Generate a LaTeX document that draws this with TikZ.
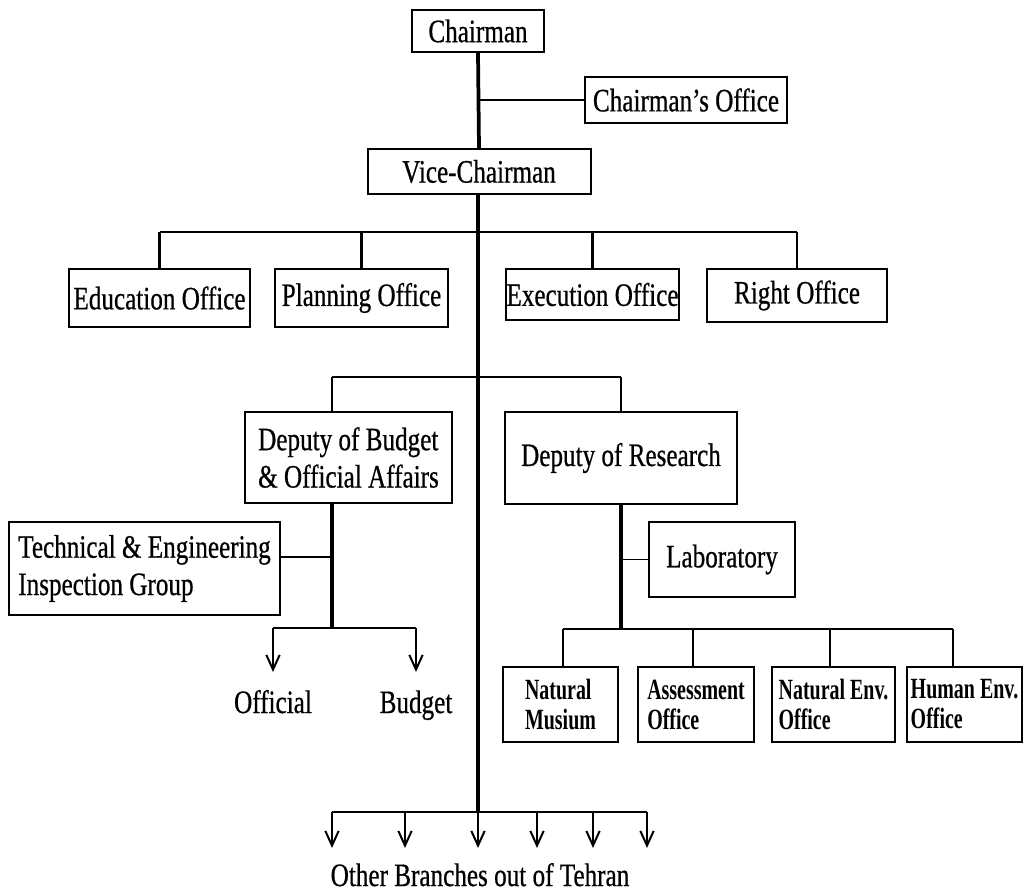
\documentclass[tikz,border=0pt]{standalone}
\usepackage{fontspec}
\setmainfont{Liberation Serif}[FakeStretch=0.77,FakeBold=0.6]
\newfontfamily\offfont{Liberation Serif}[FakeStretch=0.68]
\usetikzlibrary{arrows.meta}
\tikzset{
  box/.style 2 args={draw, line width=1.5pt, inner sep=0pt,
    minimum width={#1*0.75pt}, minimum height={#2*0.75pt},
    font=\fontsize{24.5}{28}\selectfont},
  obox/.style 2 args={draw, line width=1.5pt, inner sep=0pt, align=left,
    minimum width={#1*0.75pt}, minimum height={#2*0.75pt},
    font=\offfont\bfseries\fontsize{22}{22.5}\selectfont},
  lbl/.style={inner sep=0pt, anchor=base, font=\fontsize{24.5}{28}\selectfont},
  trunk/.style={line width=2.8pt},
  stem/.style={line width=2.4pt},
  drop/.style={line width=1.9pt},
  bar/.style={line width=1.3pt},
  arr/.style={line width=1.8pt, -{Straight Barb[length=11pt,width=10pt,line width=1.5pt]}},
}
\begin{document}
\begin{tikzpicture}[x=0.75pt,y=-0.75pt]
\useasboundingbox (0,0) rectangle (1027,894);

% boxes
\node[box={132}{42}] (chair) at (478,31) {Chairman};
\node[box={202}{46}] (choff) at (686,100) {Chairman's Office};
\node[box={223}{45}] (vice) at (479,171.5) {Vice-Chairman};
\node[box={181}{58}] (edu) at (159.5,298) {Education Office};
\node[box={173}{58}] (plan) at (361.5,298) {Planning Office};
\node[box={173}{51}] (exec) at (592.5,294.5) {Execution Office};
\node[box={180}{53}] (right) at (797,295.5) {Right Office};
\node[box={207}{91}, align=left] (depb) at (348.5,457.5) {Deputy of Budget\\\& Official Affairs};
\node[box={232}{92}] (depr) at (621,458) {Deputy of Research};
\node[box={271}{93}, align=left] (tech) at (144.5,568.5) {Technical \& Engineering\\Inspection Group};
\node[box={146}{75}] (lab) at (722,559.5) {Laboratory};
\node[obox={115}{75}] (nm) at (560.5,704.5) {Natural\\Musium};
\node[obox={116}{75}] (ass) at (696,704.5) {Assessment\\Office};
\node[obox={123}{75}] (nenv) at (833.5,704.5) {Natural Env.\\Office};
\node[obox={115}{75}] (henv) at (964.5,704.5) {Human Env.\\Office};

% labels (placed by baseline)
\node[lbl] (off) at (273,713) {Official};
\node[lbl] (bud) at (416,713) {Budget};
\node[lbl] (other) at (480,886) {Other Branches out of Tehran};

% coordinates
\coordinate (ob) at (478,232);
\coordinate (dbx) at (332,377);
\coordinate (tb) at (332,557);
\coordinate (obar) at (332,628);
\coordinate (rbar) at (621,629);
\coordinate (bb) at (478,812);
\coordinate (d1) at (563,629);
\coordinate (d2) at (693,629);
\coordinate (d3) at (830,629);
\coordinate (d4) at (953,629);
\coordinate (offt) at (273,672);
\coordinate (budt) at (416,672);

% trunk
\draw[trunk] (chair.south) -- (vice.north);
\draw[trunk] (vice.south -| chair.south) -- (bb);
\draw[bar] (choff.west) -- (choff.west -| chair.south);

% offices
\draw[bar] (edu.north |- ob) -- (right.north |- ob);
\draw[drop] (edu.north) -- (edu.north |- ob);
\draw[drop] (plan.north) -- (plan.north |- ob);
\draw[drop] (exec.north) -- (exec.north |- ob);
\draw[drop] (right.north) -- (right.north |- ob);

% deputies
\draw[bar] (dbx) -- (depr.north |- dbx);
\draw[drop] (dbx) -- (dbx |- depb.north);
\draw[drop] (depr.north) -- (depr.north |- dbx);

% budget branch
\draw[stem] (dbx |- depb.south) -- (obar);
\draw[bar] (tech.east |- tb) -- (tb);
\draw[bar] (offt |- obar) -- (budt |- obar);
\draw[arr] (offt |- obar) -- (offt);
\draw[arr] (budt |- obar) -- (budt);

% research branch
\draw[stem] (depr.south) -- (rbar);
\draw[bar] (lab.west) -- (lab.west -| depr.south);
\draw[bar] (d1) -- (d4);
\draw[drop] (d1) -- (d1 |- nm.north);
\draw[drop] (d2) -- (d2 |- ass.north);
\draw[drop] (d3) -- (d3 |- nenv.north);
\draw[drop] (d4) -- (d4 |- henv.north);

% other branches
\coordinate (sl) at (332,812);
\coordinate (sr) at (647,812);
\draw[bar] (sl) -- (sr);
\foreach \i/\xx in {1/332,2/405,3/478,4/537,5/593,6/647}{
  \coordinate (s\i) at (\xx,812);
  \coordinate (e\i) at (\xx,848);
  \draw[arr] (s\i) -- (e\i);
}
\end{tikzpicture}
\end{document}
